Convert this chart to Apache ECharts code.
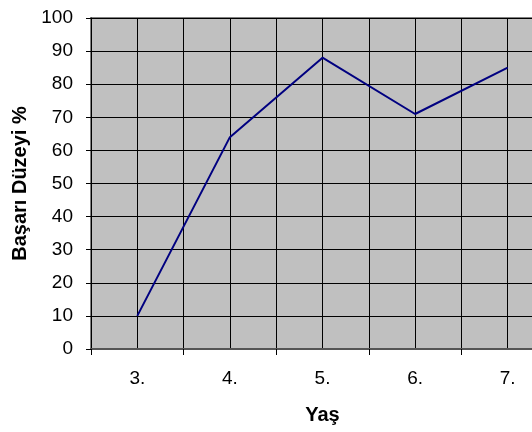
<!DOCTYPE html>
<html>
<head>
<meta charset="utf-8">
<script src="https://cdn.jsdelivr.net/npm/echarts@6/dist/echarts.min.js"></script>
<style>
  html, body { margin: 0; padding: 0; background: #fff; }
  #chart { width: 532px; height: 432px; }
</style>
</head>
<body>
<div id="chart"></div>
<script>
// Age groups on the x axis
const ages = ['3.', '4.', '5.', '6.', '7.'];
// Success level (%) per age group
const successLevel = [10, 64, 88, 71, 85];
// Value axis ticks
const yTicks = [0, 10, 20, 30, 40, 50, 60, 70, 80, 90, 100];

const FONT = 'Liberation Sans, Arial, sans-serif';
const chart = echarts.init(document.getElementById('chart'), null, { renderer: 'canvas' });

chart.setOption({
  animation: false,
  backgroundColor: '#ffffff',
  grid: {
    left: 91, top: 18, width: 463, height: 331,
    outerBoundsMode: 'none',
    containLabel: false,
    show: true, backgroundColor: '#c0c0c0', borderColor: '#808080', borderWidth: 2
  },
  xAxis: [
    {
      type: 'category',
      data: ages,
      boundaryGap: true,
      name: 'Yaş',
      nameLocation: 'middle',
      nameGap: 56,
      nameTextStyle: { fontFamily: FONT, fontSize: 20, fontWeight: 'bold', color: '#000' },
      axisLine: { show: true, lineStyle: { color: '#555', width: 2 } },
      axisTick: { show: true, length: 6, alignWithLabel: false, lineStyle: { color: '#000' } },
      axisLabel: { margin: 20, fontFamily: FONT, fontSize: 19, color: '#000' },
      splitLine: { show: false }
    },
    {
      // half-category grid lines
      type: 'value',
      position: 'bottom',
      min: 0, max: 10, interval: 1,
      axisLine: { show: false },
      axisTick: { show: false },
      axisLabel: { show: false },
      splitLine: { show: true, lineStyle: { color: '#000', width: 1 } }
    }
  ],
  yAxis: {
    type: 'value',
    min: yTicks[0],
    max: yTicks[yTicks.length - 1],
    interval: yTicks[1] - yTicks[0],
    name: 'Başarı Düzeyi %',
    nameLocation: 'middle',
    nameGap: 61,
    nameRotate: 90,
    nameTextStyle: { fontFamily: FONT, fontSize: 20, fontWeight: 'bold', color: '#000' },
    axisLine: { show: true, lineStyle: { color: '#000', width: 1 } },
    axisTick: { show: true, length: 5, lineStyle: { color: '#000' } },
    axisLabel: { margin: 18, fontFamily: FONT, fontSize: 19, color: '#000' },
    splitLine: { show: true, lineStyle: { color: '#000', width: 1 } }
  },
  series: [{
    type: 'line',
    xAxisIndex: 0,
    data: successLevel,
    showSymbol: false,
    symbol: 'none',
    lineStyle: { color: '#000080', width: 2 },
    z: 5
  }]
});
</script>
</body>
</html>
